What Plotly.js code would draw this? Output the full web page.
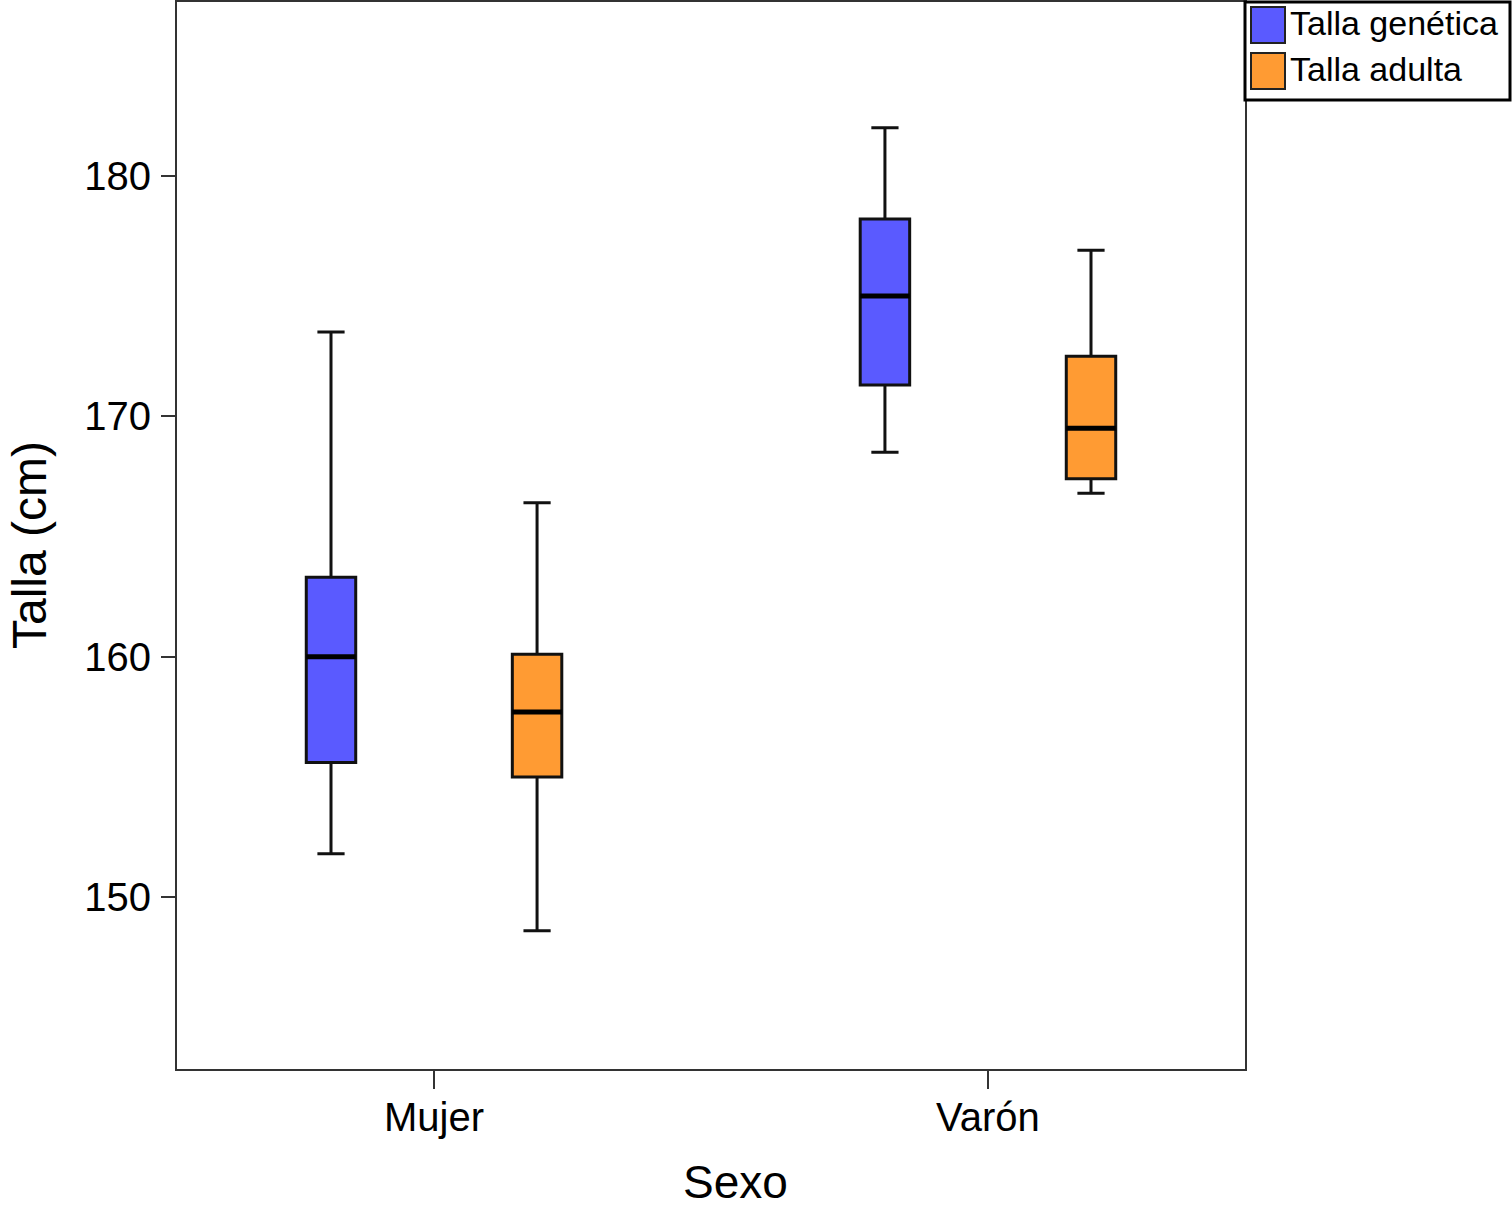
<!DOCTYPE html>
<html>
<head>
<meta charset="utf-8">
<script src="https://cdn.plot.ly/plotly-3.0.1.min.js"></script>
<style>
  html, body { margin: 0; padding: 0; background: #fff; }
  #chart { width: 1512px; height: 1208px; }
</style>
</head>
<body>
<div id="chart"></div>
<script>
// categories and series
const categories = ['Mujer', 'Varón'];
const seriesNames = ['Talla genética', 'Talla adulta'];
const seriesColors = ['rgb(90,90,255)', 'rgb(255,155,51)'];

// box statistics (cm)
const genLower = [151.8, 168.5];
const genQ1 = [155.6, 171.3];
const genMedian = [160.0, 175.0];
const genQ3 = [163.3, 178.2];
const genUpper = [173.5, 182.0];

const adultLower = [148.6, 166.8];
const adultQ1 = [155.0, 167.4];
const adultMedian = [157.7, 169.5];
const adultQ3 = [160.1, 172.5];
const adultUpper = [166.4, 176.9];

const yTicks = [150, 160, 170, 180];
const xTitle = 'Sexo';
const yTitle = 'Talla (cm)';

const stats = [
  {lo: genLower, q1: genQ1, med: genMedian, q3: genQ3, hi: genUpper},
  {lo: adultLower, q1: adultQ1, med: adultMedian, q3: adultQ3, hi: adultUpper}
];

const traces = [];
stats.forEach(function (s, i) {
  const group = 'g' + i;
  traces.push({
    type: 'box',
    name: seriesNames[i],
    x: categories,
    lowerfence: s.lo,
    q1: s.q1,
    median: s.med,
    q3: s.q3,
    upperfence: s.hi,
    offsetgroup: group,
    fillcolor: seriesColors[i],
    line: {color: '#111', width: 3},
    whiskerwidth: 0.55,
    showlegend: false,
    hoverinfo: 'skip'
  });
  // thicker median bar drawn on top of the box
  traces.push({
    type: 'box',
    name: seriesNames[i] + ' mediana',
    x: categories,
    lowerfence: s.med,
    q1: s.med,
    median: s.med,
    q3: s.med,
    upperfence: s.med,
    offsetgroup: group,
    fillcolor: 'rgba(0,0,0,0)',
    line: {color: '#000', width: 5},
    whiskerwidth: 0,
    showlegend: false,
    hoverinfo: 'skip'
  });
});

// pixel helpers relative to the plot frame (1068 x 1067 px)
const plotW = 1068, plotH = 1067;
function px(x) { return x / plotW; }
function py(y) { return 1 - y / plotH; }

// hand-made legend box in the top right corner, outside the plot frame
const shapes = [{
  type: 'rect', xref: 'paper', yref: 'paper',
  x0: px(1068), x1: px(1333), y0: py(98), y1: py(0),
  line: {color: '#000', width: 3}, fillcolor: '#fff'
}];
const annotations = [];
seriesNames.forEach(function (name, i) {
  const top = 5 + i * 46;
  shapes.push({
    type: 'rect', xref: 'paper', yref: 'paper',
    x0: px(1074), x1: px(1108), y0: py(top + 36), y1: py(top),
    line: {color: '#222', width: 2}, fillcolor: seriesColors[i]
  });
  annotations.push({
    xref: 'paper', yref: 'paper', x: px(1111), y: py(top + 16),
    xanchor: 'left', yanchor: 'middle', showarrow: false,
    text: name, font: {size: 34, color: '#000'}
  });
});

// axis titles
annotations.push({
  xref: 'paper', yref: 'paper', x: px(558), y: py(1180),
  xanchor: 'center', yanchor: 'middle', showarrow: false,
  text: xTitle, font: {size: 46, color: '#000'}
});
annotations.push({
  xref: 'paper', yref: 'paper', x: px(-148), y: py(543),
  xanchor: 'center', yanchor: 'middle', showarrow: false, textangle: -90,
  text: yTitle, font: {size: 48, color: '#000'}
});

const layout = {
  width: 1512,
  height: 1208,
  margin: {l: 177, r: 267, t: 2, b: 139, pad: 0},
  paper_bgcolor: '#fff',
  plot_bgcolor: '#fff',
  font: {family: 'Liberation Sans, Arial, sans-serif', color: '#000'},
  showlegend: false,
  boxmode: 'group',
  boxgap: 0.256,
  boxgroupgap: 0.76,
  xaxis: {
    type: 'category',
    range: [-0.464, 1.464],
    showline: true, mirror: true, linecolor: '#333', linewidth: 2,
    ticks: 'outside', ticklen: 18, tickwidth: 2, tickcolor: '#333',
    ticklabelstandoff: -6,
    showgrid: false, zeroline: false,
    tickfont: {size: 40}
  },
  yaxis: {
    range: [142.85, 187.23],
    tickvals: yTicks,
    showline: true, mirror: true, linecolor: '#333', linewidth: 2,
    ticks: 'outside', ticklen: 14, tickwidth: 2, tickcolor: '#333',
    ticklabelstandoff: 2,
    showgrid: false, zeroline: false,
    tickfont: {size: 40}
  },
  shapes: shapes,
  annotations: annotations
};

Plotly.newPlot('chart', traces, layout, {displayModeBar: false, staticPlot: true});
</script>
</body>
</html>
